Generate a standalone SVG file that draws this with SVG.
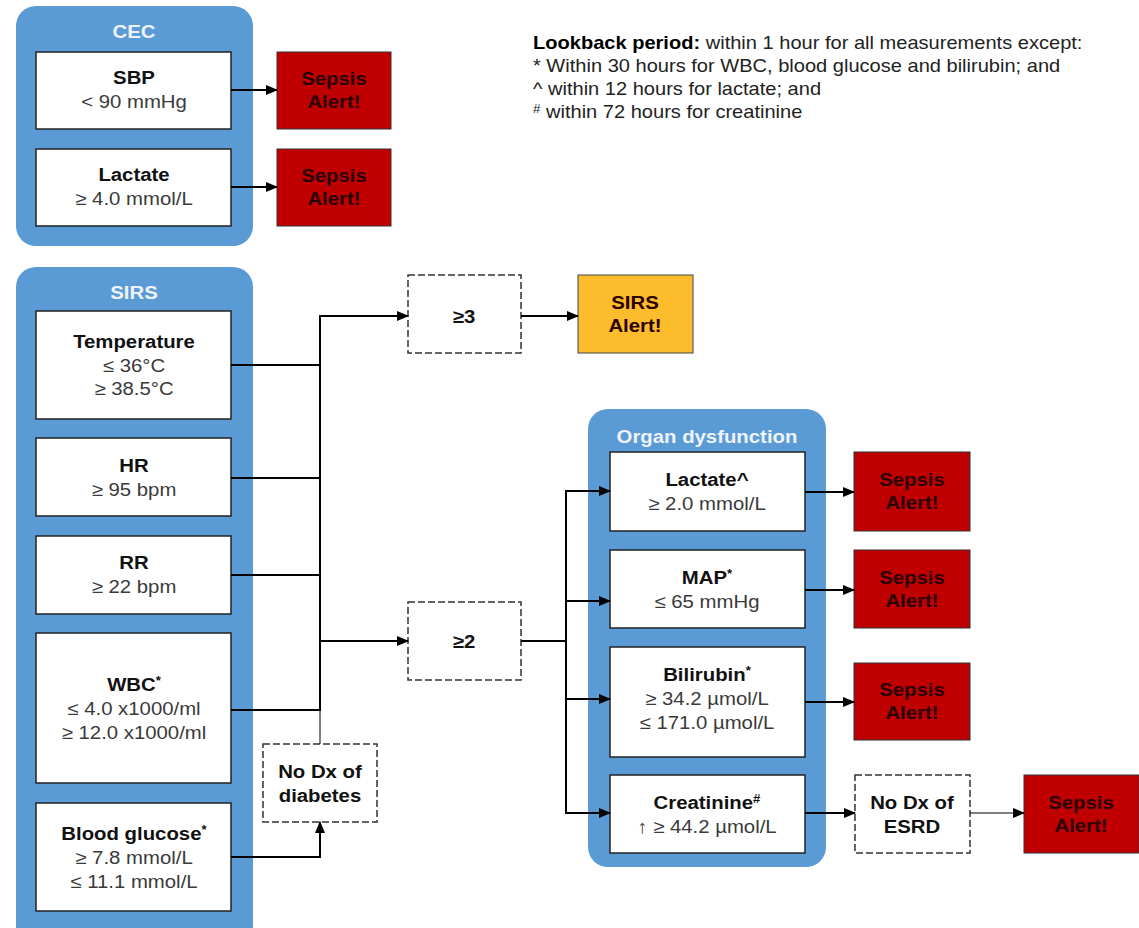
<svg xmlns="http://www.w3.org/2000/svg" width="1139" height="928" viewBox="0 0 1139 928">
<defs>
<marker id="ah" markerUnits="userSpaceOnUse" markerWidth="12" markerHeight="10" refX="11" refY="5" orient="auto"><path d="M0,0 L12,5 L0,10 Z" fill="#000"/></marker>
<style>
text{font-family:"Liberation Sans",Arial,sans-serif;font-size:18.5px;text-anchor:middle;transform-box:fill-box;transform-origin:center;transform:scaleX(1.1)}
.panel{fill:#5B9BD5}
.ptitle{fill:#EEF4FA;font-weight:bold}
.box{fill:#fff;stroke:#222;stroke-width:1.5}
.dash{fill:#fff;stroke:#333;stroke-width:1.5;stroke-dasharray:7 3}
.red{fill:#C00000;stroke:#333;stroke-width:1}
.yel{fill:#FDBC2C;stroke:#444;stroke-width:1}
.b{font-weight:bold;fill:#111}
.v{fill:#3a3a3a}
.al{font-weight:bold;fill:#2a0000}
.sup{font-size:12px}
.ln{fill:none;stroke:#000;stroke-width:2}
.ar{fill:none;stroke:#000;stroke-width:2;marker-end:url(#ah)}
text.lg{text-anchor:start;fill:#222;font-size:18px;transform-origin:left center;transform:scaleX(1.115)}
</style>
</defs>
<rect width="1139" height="928" fill="#fff"/>

<g id="legend">
<text class="lg" x="533" y="49"><tspan font-weight="bold" fill="#000">Lookback period:</tspan> within 1 hour for all measurements except:</text>
<text class="lg" x="533" y="72">* Within 30 hours for WBC, blood glucose and bilirubin; and</text>
<text class="lg" x="533" y="95">^ within 12 hours for lactate; and</text>
<text class="lg" x="533" y="118"><tspan class="sup" dy="-5">#</tspan><tspan dy="5"> within 72 hours for creatinine</tspan></text>
</g>

<g id="cec">
<rect class="panel" x="16" y="6" width="237" height="240" rx="20"/>
<text class="ptitle" x="134" y="38">CEC</text>
</g>
<g id="sbp"><rect class="box" x="36" y="52" width="195" height="77"/>
<text class="b" x="134" y="84">SBP</text><text class="v" x="134" y="108">&lt; 90 mmHg</text></g>
<g id="lactate-cec"><rect class="box" x="36" y="149" width="195" height="77"/>
<text class="b" x="134" y="181">Lactate</text><text class="v" x="134" y="205">≥ 4.0 mmol/L</text></g>
<g id="alert1"><rect class="red" x="277" y="52" width="114" height="77"/>
<text class="al" x="334" y="85">Sepsis</text><text class="al" x="334" y="108">Alert!</text></g>
<g id="alert2"><rect class="red" x="277" y="149" width="114" height="77"/>
<text class="al" x="334" y="182">Sepsis</text><text class="al" x="334" y="205">Alert!</text></g>

<g id="sirs">
<rect class="panel" x="16" y="267" width="237" height="680" rx="20"/>
<text class="ptitle" x="134" y="299">SIRS</text>
</g>
<g id="temp"><rect class="box" x="36" y="311" width="195" height="108"/>
<text class="b" x="134" y="348">Temperature</text><text class="v" x="134" y="372">≤ 36°C</text><text class="v" x="134" y="395">≥ 38.5°C</text></g>
<g id="hr"><rect class="box" x="36" y="438" width="195" height="78"/>
<text class="b" x="134" y="472">HR</text><text class="v" x="134" y="496">≥ 95 bpm</text></g>
<g id="rr"><rect class="box" x="36" y="536" width="195" height="78"/>
<text class="b" x="134" y="569">RR</text><text class="v" x="134" y="593">≥ 22 bpm</text></g>
<g id="wbc"><rect class="box" x="36" y="633" width="195" height="150"/>
<text class="b" x="134" y="691">WBC<tspan class="sup" dy="-6">*</tspan></text><text class="v" x="134" y="715">≤ 4.0 x1000/ml</text><text class="v" x="134" y="739">≥ 12.0 x1000/ml</text></g>
<g id="glucose"><rect class="box" x="36" y="803" width="195" height="108"/>
<text class="b" x="134" y="840">Blood glucose<tspan class="sup" dy="-6">*</tspan></text><text class="v" x="134" y="864">≥ 7.8 mmol/L</text><text class="v" x="134" y="888">≤ 11.1 mmol/L</text></g>
<g id="nodx-diabetes"><rect class="dash" x="263" y="744" width="114" height="78"/>
<text class="b" x="320" y="778">No Dx of</text><text class="b" x="320" y="802">diabetes</text></g>

<g id="ge3"><rect class="dash" x="408" y="275" width="113" height="78"/>
<text class="b" x="464" y="323">≥3</text></g>
<g id="sirs-alert"><rect class="yel" x="578" y="275" width="115" height="78"/>
<text class="al" x="635" y="309">SIRS</text><text class="al" x="635" y="332">Alert!</text></g>
<g id="ge2"><rect class="dash" x="408" y="602" width="113" height="78"/>
<text class="b" x="464" y="648">≥2</text></g>

<g id="organ">
<rect class="panel" x="588" y="409" width="238" height="458" rx="20"/>
<text class="ptitle" x="707" y="443">Organ dysfunction</text>
</g>
<g id="lactate-od"><rect class="box" x="610" y="452" width="195" height="79"/>
<text class="b" x="707" y="486">Lactate^</text><text class="v" x="707" y="510">≥ 2.0 mmol/L</text></g>
<g id="map"><rect class="box" x="610" y="550" width="195" height="78"/>
<text class="b" x="707" y="584">MAP<tspan class="sup" dy="-6">*</tspan></text><text class="v" x="707" y="608">≤ 65 mmHg</text></g>
<g id="bilirubin"><rect class="box" x="610" y="647" width="195" height="110"/>
<text class="b" x="707" y="681">Bilirubin<tspan class="sup" dy="-6">*</tspan></text><text class="v" x="707" y="705">≥ 34.2 µmol/L</text><text class="v" x="707" y="729">≤ 171.0 µmol/L</text></g>
<g id="creatinine"><rect class="box" x="610" y="775" width="195" height="78"/>
<text class="b" x="707" y="809">Creatinine<tspan class="sup" dy="-6">#</tspan></text><text class="v" x="707" y="833">↑ ≥ 44.2 µmol/L</text></g>

<g id="alert3"><rect class="red" x="854" y="452" width="116" height="79"/>
<text class="al" x="912" y="486">Sepsis</text><text class="al" x="912" y="509">Alert!</text></g>
<g id="alert4"><rect class="red" x="854" y="550" width="116" height="78"/>
<text class="al" x="912" y="584">Sepsis</text><text class="al" x="912" y="607">Alert!</text></g>
<g id="alert5"><rect class="red" x="854" y="663" width="116" height="77"/>
<text class="al" x="912" y="696">Sepsis</text><text class="al" x="912" y="719">Alert!</text></g>
<g id="nodx-esrd"><rect class="dash" x="855" y="775" width="115" height="78"/>
<text class="b" x="912" y="809">No Dx of</text><text class="b" x="912" y="833">ESRD</text></g>
<g id="alert6"><rect class="red" x="1024" y="775" width="115" height="78"/>
<text class="al" x="1081" y="809">Sepsis</text><text class="al" x="1081" y="832">Alert!</text></g>

<g id="connectors">
<line class="ar" x1="231" y1="90" x2="277" y2="90"/>
<line class="ar" x1="231" y1="187" x2="277" y2="187"/>
<line class="ln" x1="231" y1="365" x2="320" y2="365"/>
<line class="ln" x1="231" y1="478" x2="320" y2="478"/>
<line class="ln" x1="231" y1="575" x2="320" y2="575"/>
<line class="ln" x1="231" y1="710" x2="320" y2="710"/>
<line class="ln" x1="320" y1="315" x2="320" y2="711"/>
<line stroke="#000" stroke-width="1" x1="320" y1="710" x2="320" y2="744"/>
<polyline class="ar" points="320,316 408,316"/>
<polyline class="ar" points="320,641 408,641"/>
<polyline class="ar" points="231,857 320,857 320,822"/>
<line class="ar" x1="521" y1="316" x2="578" y2="316"/>
<line class="ln" x1="521" y1="641" x2="566" y2="641"/>
<line class="ln" x1="566" y1="490" x2="566" y2="814"/>
<line class="ar" x1="566" y1="491" x2="610" y2="491"/>
<line class="ar" x1="566" y1="601" x2="610" y2="601"/>
<line class="ar" x1="566" y1="699" x2="610" y2="699"/>
<line class="ar" x1="565" y1="813" x2="610" y2="813"/>
<line class="ar" x1="805" y1="492" x2="854" y2="492"/>
<line class="ar" x1="805" y1="590" x2="854" y2="590"/>
<line class="ar" x1="805" y1="702" x2="854" y2="702"/>
<line class="ar" x1="805" y1="813" x2="855" y2="813"/>
<line fill="none" stroke="#000" stroke-width="1.2" marker-end="url(#ah)" x1="970" y1="813" x2="1024" y2="813"/>
</g>
</svg>
